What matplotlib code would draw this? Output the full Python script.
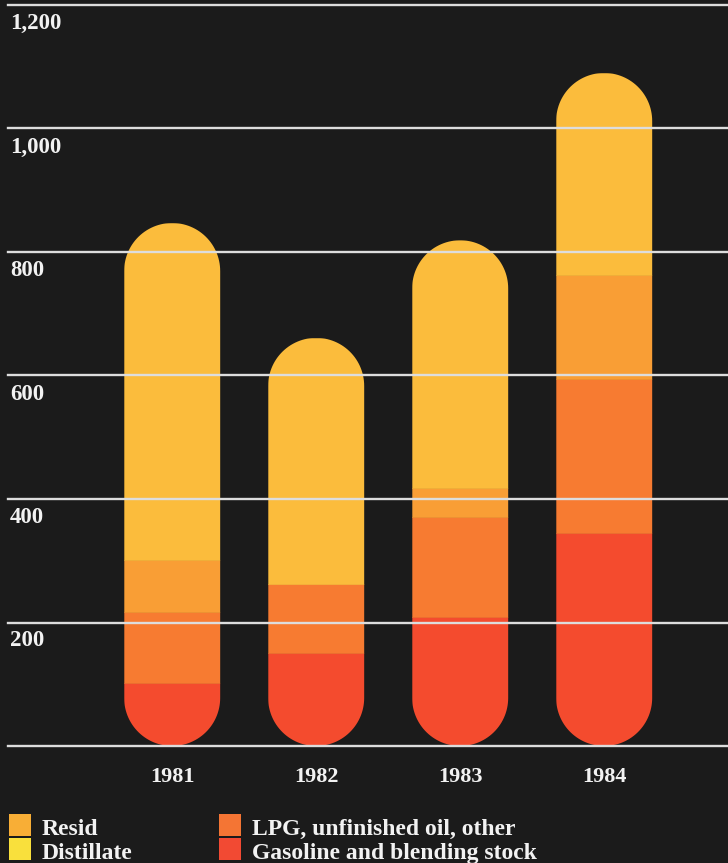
import numpy as np
import matplotlib
matplotlib.use("Agg")
import matplotlib.pyplot as plt
from matplotlib.patches import Polygon, Rectangle

# Stacked product volumes, bottom to top
years = ["1981", "1982", "1983", "1984"]
gasoline = [102, 151, 209, 345]
lpg = [115, 111, 162, 250]
distillate = [84, 0, 47, 168]
resid = [546, 399, 401, 327]

ticks = [0, 200, 400, 600, 800, 1000, 1200]
tick_labels = ["", "200", "400", "600", "800", "1,000", "1,200"]

# legend order is column-major and follows the stack from top to bottom
legend_names = ["Resid", "Distillate", "LPG, unfinished oil, other", "Gasoline and blending stock"]

bar_colors = {"gasoline": "#F44B2E", "lpg": "#F77B31", "distillate": "#F99E35", "resid": "#FBBC3C"}
legend_colors = ["#F8AE36", "#F9E03C", "#F47534", "#F24A33"]

BG = "#1B1B1B"
FG = "#F2F2F2"
W, H, DPI = 728, 863, 100

plt.rcParams["font.family"] = ["Liberation Serif", "DejaVu Serif"]

fig = plt.figure(figsize=(W / DPI, H / DPI), dpi=DPI, facecolor=BG)
y0_px, y1200_px = 746, 5
ax = fig.add_axes([8 / W, (H - y0_px) / H, 1 - 8 / W, (y0_px - y1200_px) / H])
ax.set_facecolor(BG)
for s in ax.spines.values():
    s.set_visible(False)
ax.set_xticks([])
ax.set_yticks([])

xmin, xmax = -1.14, 3.86
ax.set_xlim(xmin, xmax)
ax.set_ylim(0, 1200)

x = list(range(len(years)))
width = 0.667

# pixel scales so the rounded ends come out as true semicircles
px_per_x = (W - 8) / (xmax - xmin)
px_per_y = (y0_px - y1200_px) / 1200
rx = width / 2
ry = rx * px_per_x / px_per_y

series = [("gasoline", gasoline), ("lpg", lpg), ("distillate", distillate), ("resid", resid)]
bottoms = [0] * len(years)
all_bars = []
for key, vals in series:
    bars = ax.bar(x, vals, width=width, bottom=bottoms, color=bar_colors[key],
                  edgecolor=bar_colors[key], linewidth=0.4, zorder=2)
    all_bars.append(bars)
    bottoms = [b + v for b, v in zip(bottoms, vals)]

th_top = np.linspace(0, np.pi, 60)
th_bot = np.linspace(np.pi, 2 * np.pi, 60)
for i, total in enumerate(bottoms):
    cx = x[i]
    top = np.column_stack([cx + rx * np.cos(th_top), total - ry + ry * np.sin(th_top)])
    bot = np.column_stack([cx + rx * np.cos(th_bot), ry + ry * np.sin(th_bot)])
    capsule = Polygon(np.vstack([top, bot]), closed=True, transform=ax.transData)
    for bars in all_bars:
        bars[i].set_clip_path(capsule)

# grid lines sit on top of the bars
for t in ticks:
    ax.axhline(t, color="#DDDDDD", linewidth=1.7, zorder=3, clip_on=False)

for t, lab in zip(ticks, tick_labels):
    if lab:
        ax.annotate(lab, xy=(10, t), xycoords=("figure pixels", "data"),
                    xytext=(0, -24), textcoords="offset pixels",
                    ha="left", va="baseline", color=FG, fontsize=16.5, fontweight="bold")

for xi, yr in zip(x, years):
    ax.annotate(yr, xy=(xi, 0), xytext=(0, -36), textcoords="offset pixels",
                ha="center", va="baseline", color=FG, fontsize=16, fontweight="bold")

# legend, two columns
col_x = [9, 219]
for i, (name, col) in enumerate(zip(legend_names, legend_colors)):
    lx = col_x[i // 2]
    top = 814 + (i % 2) * 24
    fig.add_artist(Rectangle((lx / W, (H - top - 22) / H), 22 / W, 22 / H,
                             transform=fig.transFigure, facecolor=col, edgecolor="none"))
    fig.text((lx + 33) / W, (H - (835 + (i % 2) * 24)) / H, name, ha="left", va="baseline",
             color=FG, fontsize=17, fontweight="bold")

fig.savefig("out.png", dpi=DPI, facecolor=BG)
